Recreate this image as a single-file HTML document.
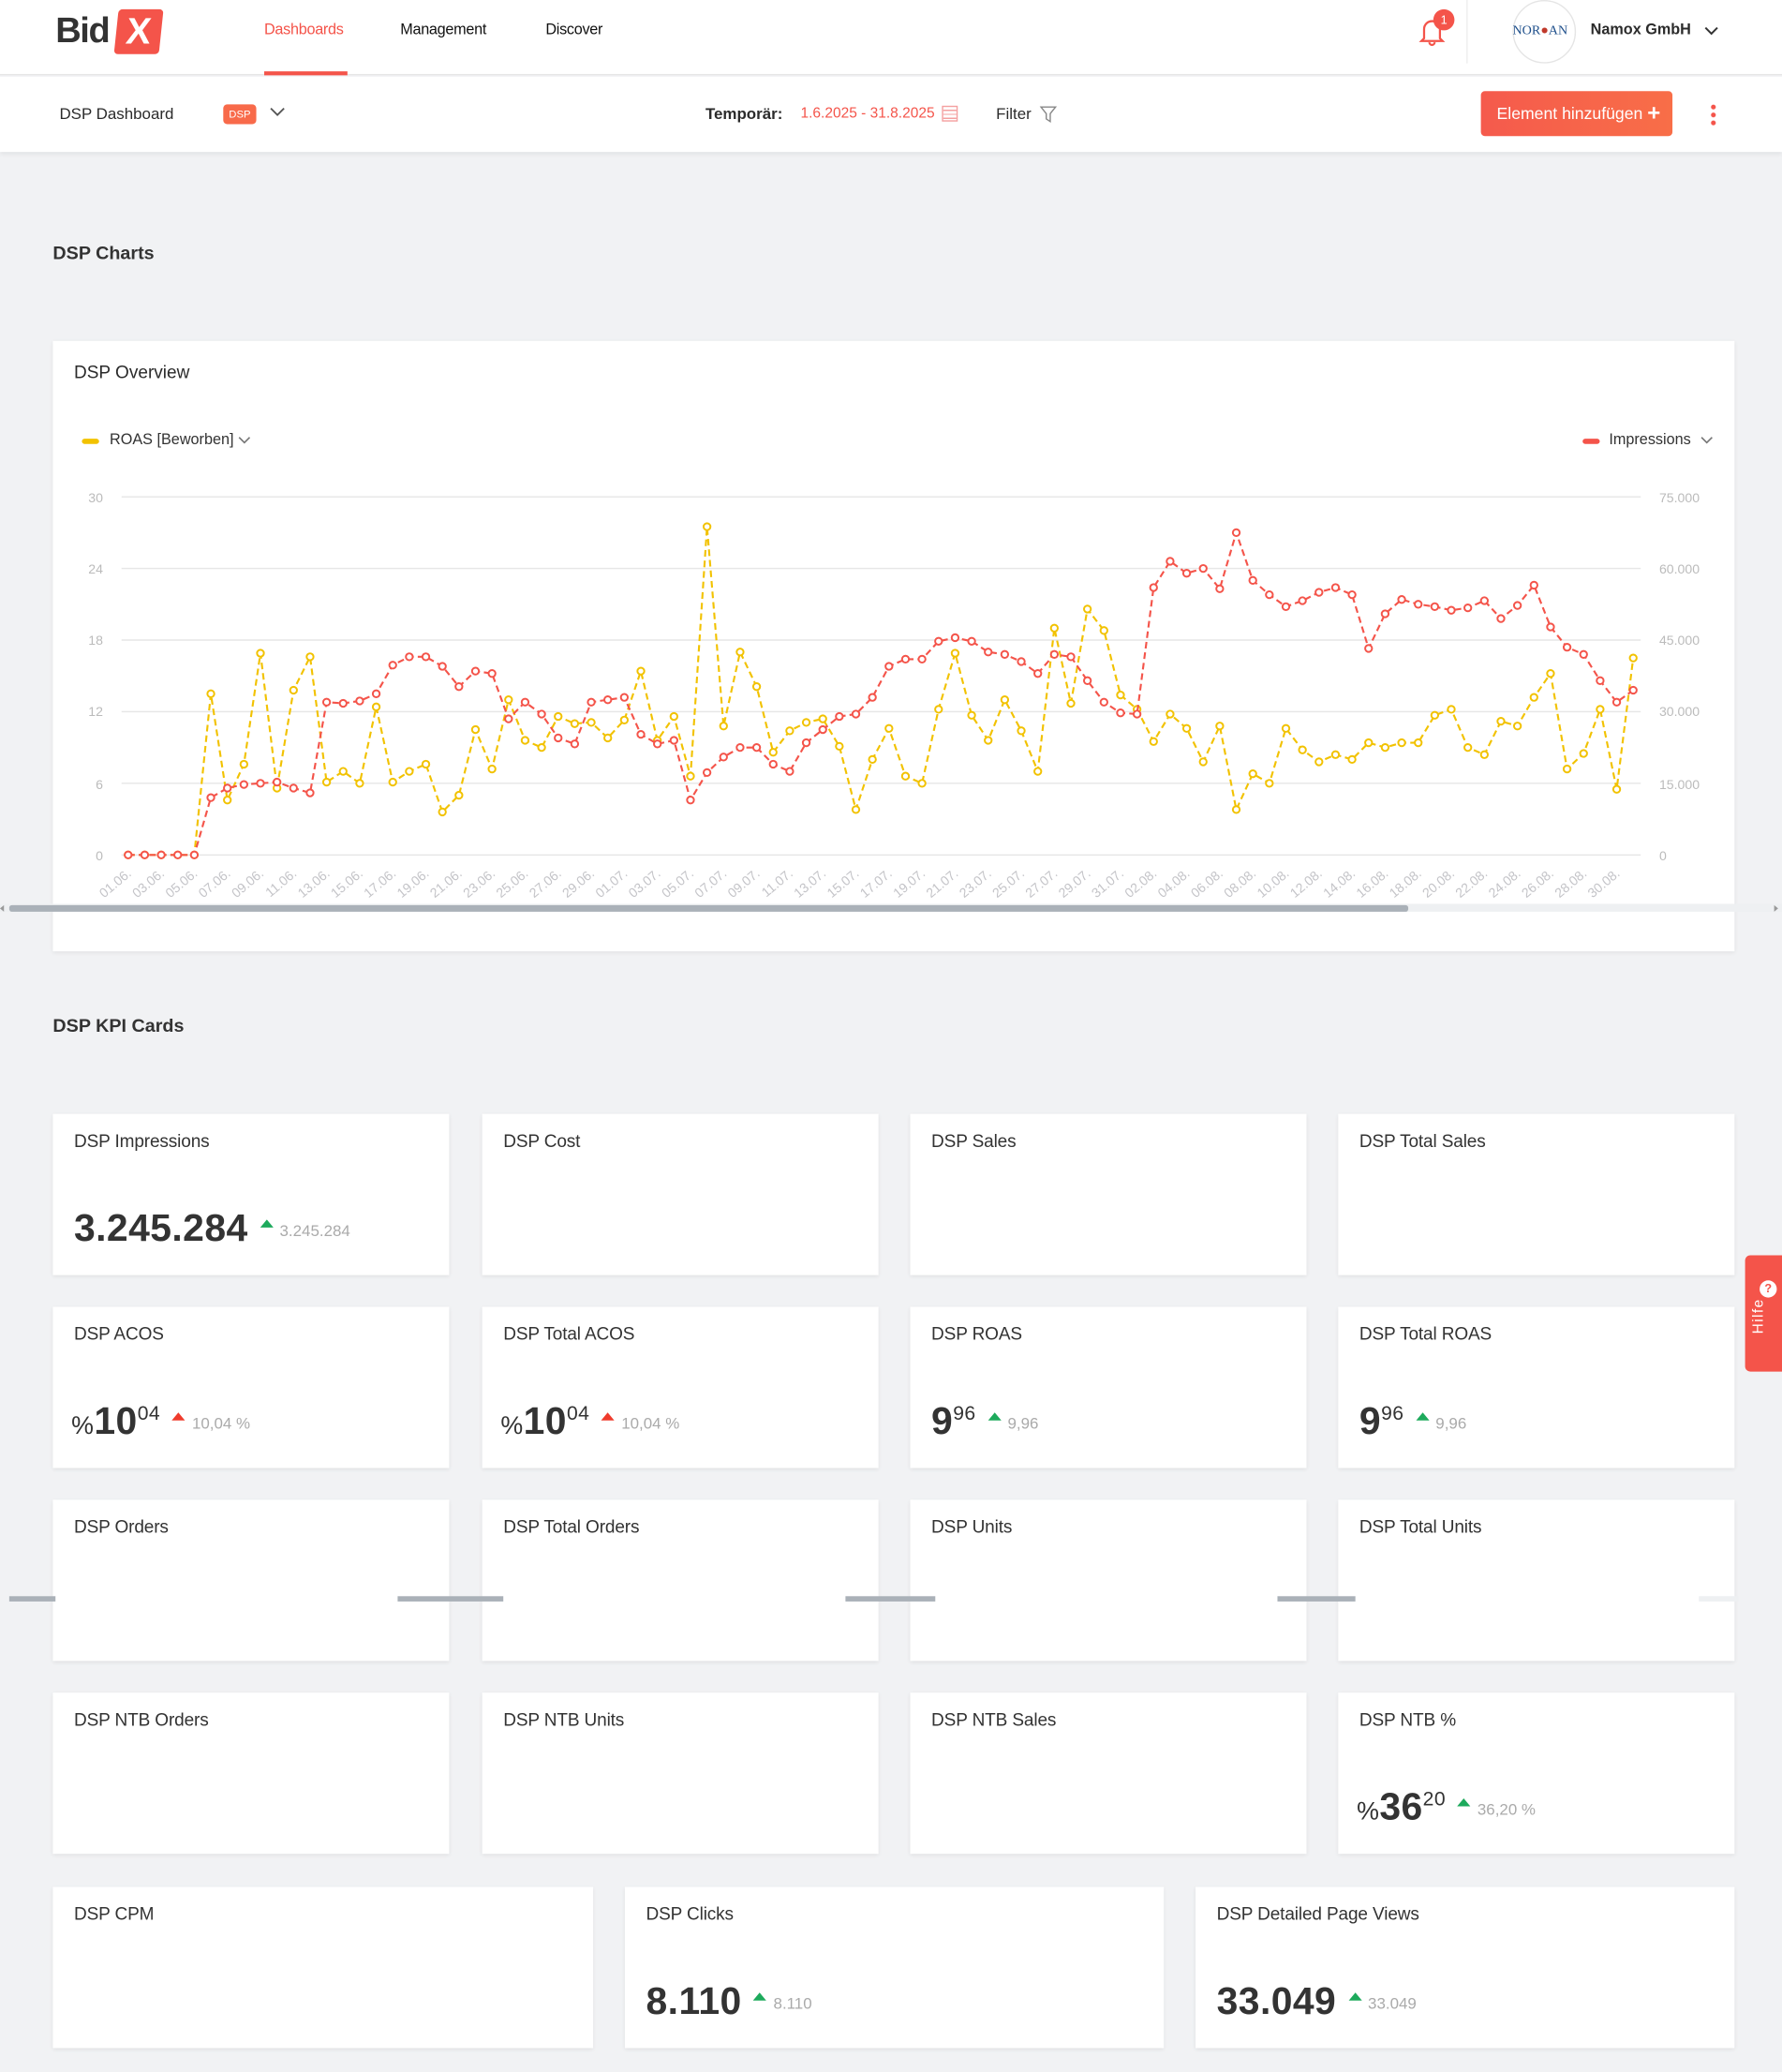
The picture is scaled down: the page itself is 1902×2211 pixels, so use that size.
<!DOCTYPE html>
<html><head><meta charset="utf-8">
<style>
*{margin:0;padding:0;box-sizing:border-box}
html,body{width:1902px;height:2211px;overflow:hidden;background:#f1f2f4}
#w{position:absolute;left:0;top:0;width:1349px;height:1568px;transform:scale(1.41);transform-origin:0 0;font-family:"Liberation Sans",sans-serif;color:#2b2b2b;background:#f1f2f4}
.a{position:absolute}
.hdr{left:0;top:0;width:1349px;height:57px;background:#fff;border-bottom:1px solid #e6e6e6}
.sub{left:0;top:58px;width:1349px;height:57px;background:#fff;box-shadow:0 2px 3px rgba(0,0,0,.06)}
.nav{font-size:11.5px;font-weight:bold;top:17px;letter-spacing:-0.2px}
.card{background:#fff;box-shadow:0 1px 3px rgba(0,0,0,.08);position:absolute}
.ct{position:absolute;left:16px;top:13px;font-size:13.5px;color:#333;letter-spacing:-0.1px}
.val{position:absolute;left:16px;top:71px;white-space:nowrap;font-size:29px;font-weight:bold;color:#333;letter-spacing:0.3px}
.sm{font-size:12px;color:#aaa;font-weight:normal;vertical-align:middle;letter-spacing:0}
.up{display:inline-block;width:0;height:0;border-left:5px solid transparent;border-right:5px solid transparent;border-bottom:6px solid #1daa5c;vertical-align:middle;margin:0 5px 0 9px;position:relative;top:-5px}
.dn{border-bottom-color:#ef3b2c}
.sec{font-size:14px;font-weight:bold;color:#333}
</style></head><body><div id="w">
<div class="a hdr"></div>
<div class="a" style="left:42px;top:8px;font-size:27px;font-weight:bold;color:#333;letter-spacing:-1px">Bid</div>
<div class="a" style="left:88px;top:7px;width:34px;height:34px;background:#f4544a;transform:skewX(-6deg);border-radius:3px;color:#fff;font-size:28px;font-weight:bold;text-align:center;line-height:34px">X</div>
<div class="a nav" style="left:200px;color:#f4544a;font-weight:normal">Dashboards</div>
<div class="a" style="left:200px;top:54px;width:63px;height:3px;background:#f4544a"></div>
<div class="a nav" style="left:303px;font-weight:normal;color:#111">Management</div>
<div class="a nav" style="left:413px;font-weight:normal;color:#111">Discover</div>
<svg class="a" style="left:1073px;top:13px" width="22" height="22" viewBox="0 0 22 22"><path d="M5 16 L5 9 A6 6 0 0 1 17 9 L17 16 L19 18 L3 18 Z M9 19 A2 2 0 0 0 13 19" fill="none" stroke="#f4544a" stroke-width="1.6"/></svg>
<div class="a" style="left:1085px;top:7px;width:16px;height:16px;border-radius:50%;background:#f4544a;color:#fff;font-size:9px;text-align:center;line-height:16px">1</div>
<div class="a" style="left:1110px;top:0;width:1px;height:48px;background:#eee"></div>
<div class="a" style="left:1145px;top:0;width:48px;height:48px;border-radius:50%;border:1px solid #e5e5e5"></div>
<div class="a" style="left:1145px;top:18px;font-family:'Liberation Serif',serif;font-size:10px;color:#1d4e8a">NOR<span style="color:#c0392b">●</span>AN</div>
<div class="a" style="left:1204px;top:17px;font-size:11.5px;font-weight:bold">Namox GmbH</div>
<svg class="a" style="left:1290px;top:20px" width="11" height="8"><path d="M1 1 L5.5 5.5 L10 1" stroke="#333" fill="none" stroke-width="1.4"/></svg>
<div class="a sub"></div>
<div class="a" style="left:45px;top:79px;font-size:12px">DSP Dashboard</div>
<div class="a" style="left:169px;top:79px;width:25px;height:15px;border-radius:3px;background:#f86a4a;color:#fff;font-size:8px;text-align:center;line-height:15px">DSP</div>
<svg class="a" style="left:204px;top:81px" width="12" height="8"><path d="M1 1 L6 6 L11 1" stroke="#555" fill="none" stroke-width="1.3"/></svg>
<div class="a" style="left:534px;top:79px;font-size:12px;font-weight:bold">Temporär:</div>
<div class="a" style="left:606px;top:80px;font-size:11px;color:#f4544a">1.6.2025 - 31.8.2025</div>
<div class="a" style="left:713px;top:80px;width:12px;height:12px;border:1px solid #f4a0a0;background:repeating-linear-gradient(#fff 0 2px,#f4a0a0 2px 3px)"></div>
<div class="a" style="left:754px;top:79px;font-size:12px">Filter</div>
<svg class="a" style="left:787px;top:80px" width="13" height="13"><path d="M1 1 L12 1 L8 6 L8 12 L5 10 L5 6 Z" fill="none" stroke="#888"/></svg>
<div class="a" style="left:1121px;top:69px;width:145px;height:34px;border-radius:3px;background:linear-gradient(90deg,#f55a4c,#f86e48);color:#fff;font-size:12.5px;line-height:34px;padding-left:12px">Element hinzufügen <b style="font-size:17px;vertical-align:-1px">+</b></div>
<div class="a" style="left:1295px;top:78px;width:4px;height:18px;background:radial-gradient(circle,#f4544a 1.6px,transparent 2px) 0 0/4px 6px"></div>

<div class="a sec" style="left:40px;top:183px">DSP Charts</div>
<div class="card" style="left:40px;top:258px;width:1273px;height:462px"></div>
<div class="a" style="left:56px;top:274px;font-size:13.5px">DSP Overview</div>
<div class="a" style="left:62px;top:332px;width:13px;height:4px;background:#f2c200;border-radius:2px"></div>
<div class="a" style="left:83px;top:327px;font-size:11.5px;color:#333">ROAS [Beworben]</div>
<svg class="a" style="left:180px;top:330px" width="10" height="7"><path d="M1 1 L5 5 L9 1" stroke="#777" fill="none" stroke-width="1.2"/></svg>
<div class="a" style="left:1198px;top:332px;width:13px;height:4px;background:#f4544a;border-radius:2px"></div>
<div class="a" style="left:1218px;top:327px;font-size:11.5px;color:#333">Impressions</div>
<svg class="a" style="left:1287px;top:330px" width="10" height="7"><path d="M1 1 L5 5 L9 1" stroke="#777" fill="none" stroke-width="1.2"/></svg>
<svg class="a" style="left:0;top:360px" width="1349" height="340" viewBox="0 360 1349 340" id="ch">
<g stroke="#e6e6e6" stroke-width="1">
<line x1="92" x2="1242" y1="376" y2="376"/><line x1="92" x2="1242" y1="430.2" y2="430.2"/><line x1="92" x2="1242" y1="484.4" y2="484.4"/><line x1="92" x2="1242" y1="538.6" y2="538.6"/><line x1="92" x2="1242" y1="592.8" y2="592.8"/><line x1="92" x2="1242" y1="647" y2="647"/></g>
<g font-size="10" fill="#bbb" text-anchor="end">
<text x="78" y="380">30</text><text x="78" y="434">24</text><text x="78" y="488">18</text><text x="78" y="542">12</text><text x="78" y="597">6</text><text x="78" y="651">0</text></g>
<g font-size="10" fill="#bbb">
<text x="1256" y="380">75.000</text><text x="1256" y="434">60.000</text><text x="1256" y="488">45.000</text><text x="1256" y="542">30.000</text><text x="1256" y="597">15.000</text><text x="1256" y="651">0</text></g>
<defs><clipPath id="cp"><rect x="0" y="655" width="1349" height="30"/></clipPath></defs>
<g font-size="10" fill="#c4c4c8" text-anchor="end" clip-path="url(#cp)" id="xl">
<text>01.06.</text><text>03.06.</text><text>05.06.</text><text>07.06.</text><text>09.06.</text><text>11.06.</text><text>13.06.</text><text>15.06.</text><text>17.06.</text><text>19.06.</text><text>21.06.</text><text>23.06.</text><text>25.06.</text><text>27.06.</text><text>29.06.</text><text>01.07.</text><text>03.07.</text><text>05.07.</text><text>07.07.</text><text>09.07.</text><text>11.07.</text><text>13.07.</text><text>15.07.</text><text>17.07.</text><text>19.07.</text><text>21.07.</text><text>23.07.</text><text>25.07.</text><text>27.07.</text><text>29.07.</text><text>31.07.</text><text>02.08.</text><text>04.08.</text><text>06.08.</text><text>08.08.</text><text>10.08.</text><text>12.08.</text><text>14.08.</text><text>16.08.</text><text>18.08.</text><text>20.08.</text><text>22.08.</text><text>24.08.</text><text>26.08.</text><text>28.08.</text><text>30.08.</text></g>
<g id="ser"></g>
<rect x="0" y="684" width="1349" height="6" fill="#eef0f2"/>
<rect x="7" y="685" width="1059" height="5" rx="2" fill="#aab1b8"/>
<path d="M3 685 L0 687.5 L3 690Z M1343 685 L1346 687.5 L1343 690Z" fill="#999"/>
</svg>

<div class="a sec" style="left:40px;top:768px">DSP KPI Cards</div>

<div class="card" style="left:40px;top:843px;width:300px;height:122px"><div class="ct">DSP Impressions</div><div class="val">3.245.284<span class="up"></span><span class="sm">3.245.284</span></div></div>
<div class="card" style="left:365px;top:843px;width:300px;height:122px"><div class="ct">DSP Cost</div></div>
<div class="card" style="left:689px;top:843px;width:300px;height:122px"><div class="ct">DSP Sales</div></div>
<div class="card" style="left:1013px;top:843px;width:300px;height:122px"><div class="ct">DSP Total Sales</div></div>

<div class="card" style="left:40px;top:989px;width:300px;height:122px"><div class="ct">DSP ACOS</div><div class="val" style="left:14px"><span style="font-size:19px;font-weight:normal">%</span>10<sup style="font-size:15px;font-weight:normal">04</sup><span class="up dn"></span><span class="sm">10,04 %</span></div></div>
<div class="card" style="left:365px;top:989px;width:300px;height:122px"><div class="ct">DSP Total ACOS</div><div class="val" style="left:14px"><span style="font-size:19px;font-weight:normal">%</span>10<sup style="font-size:15px;font-weight:normal">04</sup><span class="up dn"></span><span class="sm">10,04 %</span></div></div>
<div class="card" style="left:689px;top:989px;width:300px;height:122px"><div class="ct">DSP ROAS</div><div class="val">9<sup style="font-size:15px;font-weight:normal">96</sup><span class="up"></span><span class="sm">9,96</span></div></div>
<div class="card" style="left:1013px;top:989px;width:300px;height:122px"><div class="ct">DSP Total ROAS</div><div class="val">9<sup style="font-size:15px;font-weight:normal">96</sup><span class="up"></span><span class="sm">9,96</span></div></div>

<div class="card" style="left:40px;top:1135px;width:300px;height:122px"><div class="ct">DSP Orders</div></div>
<div class="card" style="left:365px;top:1135px;width:300px;height:122px"><div class="ct">DSP Total Orders</div></div>
<div class="card" style="left:689px;top:1135px;width:300px;height:122px"><div class="ct">DSP Units</div></div>
<div class="card" style="left:1013px;top:1135px;width:300px;height:122px"><div class="ct">DSP Total Units</div></div>
<div class="a" style="left:7px;top:1208px;width:35px;height:4px;background:#aab1b8"></div>
<div class="a" style="left:301px;top:1208px;width:80px;height:4px;background:#aab1b8"></div>
<div class="a" style="left:640px;top:1208px;width:68px;height:4px;background:#aab1b8"></div>
<div class="a" style="left:967px;top:1208px;width:59px;height:4px;background:#aab1b8"></div>
<div class="a" style="left:1286px;top:1208px;width:30px;height:4px;background:#eef0f2"></div>

<div class="card" style="left:40px;top:1281px;width:300px;height:122px"><div class="ct">DSP NTB Orders</div></div>
<div class="card" style="left:365px;top:1281px;width:300px;height:122px"><div class="ct">DSP NTB Units</div></div>
<div class="card" style="left:689px;top:1281px;width:300px;height:122px"><div class="ct">DSP NTB Sales</div></div>
<div class="card" style="left:1013px;top:1281px;width:300px;height:122px"><div class="ct">DSP NTB %</div><div class="val" style="left:14px"><span style="font-size:19px;font-weight:normal">%</span>36<sup style="font-size:15px;font-weight:normal">20</sup><span class="up"></span><span class="sm">36,20 %</span></div></div>

<div class="card" style="left:40px;top:1428px;width:409px;height:122px"><div class="ct">DSP CPM</div></div>
<div class="card" style="left:473px;top:1428px;width:408px;height:122px"><div class="ct">DSP Clicks</div><div class="val">8.110<span class="up"></span><span class="sm">8.110</span></div></div>
<div class="card" style="left:905px;top:1428px;width:408px;height:122px"><div class="ct">DSP Detailed Page Views</div><div class="val">33.049<span class="up"></span><span class="sm">33.049</span></div></div>

<div class="a" style="left:1321px;top:950px;width:28px;height:88px;background:#f4544a;border-radius:4px 0 0 4px"></div>
<div class="a" style="left:1318px;top:990px;color:#fff;font-size:11px;transform:rotate(-90deg);letter-spacing:1px">Hilfe</div>
<div class="a" style="left:1332px;top:969px;width:13px;height:13px;border-radius:50%;background:#fff;color:#f4544a;font-size:9px;text-align:center;line-height:13px;font-weight:bold">?</div>
</div>
<script>
var Y=[0,0,0,0,0,13.5,4.6,7.6,16.9,5.6,13.8,16.6,6.1,7,6,12.4,6.1,7,7.6,3.6,5,10.5,7.2,13,9.6,9,11.6,11,11.1,9.8,11.3,15.4,9.6,11.6,6.6,27.5,10.8,17,14.1,8.6,10.4,11.1,11.4,9.1,3.8,8,10.6,6.6,6,12.2,16.9,11.7,9.6,13,10.4,7,19,12.7,20.6,18.8,13.4,12.2,9.5,11.8,10.6,7.8,10.8,3.8,6.8,6,10.6,8.8,7.8,8.4,8,9.4,9,9.4,9.4,11.7,12.2,9,8.4,11.2,10.8,13.2,15.2,7.2,8.5,12.2,5.5,16.5];
var R=[0,0,0,0,0,4.8,5.6,5.9,6,6.1,5.6,5.2,12.8,12.7,12.9,13.5,15.9,16.6,16.6,15.8,14.1,15.4,15.2,11.4,12.8,11.8,9.8,9.3,12.8,13,13.2,10.1,9.3,9.6,4.6,6.9,8.2,9,9,7.6,7,9.4,10.5,11.6,11.8,13.2,15.8,16.4,16.4,17.9,18.2,17.9,17,16.8,16.2,15.2,16.8,16.6,14.6,12.8,11.9,11.8,22.4,24.6,23.6,24,22.3,27,23,21.8,20.8,21.3,22,22.4,21.8,17.3,20.2,21.4,21,20.8,20.5,20.7,21.3,19.8,20.9,22.6,19.1,17.4,16.8,14.6,12.8,13.8];
var ns="http://www.w3.org/2000/svg",g=document.getElementById("ser");
function X(i){return 97+i*12.52}function V(v){return 647-v*9.033}
[[Y,"#f2c200"],[R,"#f4544a"]].forEach(function(s){
var p=document.createElementNS(ns,"polyline");p.setAttribute("points",s[0].map(function(v,i){return X(i)+","+V(v)}).join(" "));
p.setAttribute("fill","none");p.setAttribute("stroke",s[1]);p.setAttribute("stroke-width","1.5");p.setAttribute("stroke-dasharray","5,3");g.appendChild(p);
s[0].forEach(function(v,i){var c=document.createElementNS(ns,"circle");c.setAttribute("cx",X(i));c.setAttribute("cy",V(v));c.setAttribute("r","2.6");c.setAttribute("fill","#fff");c.setAttribute("stroke",s[1]);c.setAttribute("stroke-width","1.4");g.appendChild(c);});});
var t=document.getElementById("xl").children;for(var i=0;i<t.length;i++){var x=X(i*2)+3;t[i].setAttribute("transform","translate("+x+",662) rotate(-40)");}
</script>
</body></html>
